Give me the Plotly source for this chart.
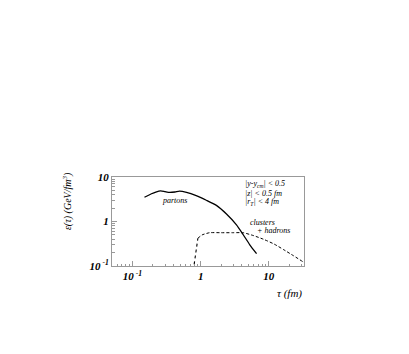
import plotly.graph_objects as go

# Data
parton_tau = [0.15, 0.19, 0.22, 0.26, 0.30, 0.35, 0.42, 0.49, 0.62, 0.86, 1.21, 1.70, 2.39, 3.35, 4.19, 5.25, 6.6]
parton_eps = [3.5, 4.2, 4.6, 4.9, 4.7, 4.5, 4.6, 4.8, 4.5, 3.8, 3.0, 2.3, 1.47, 0.84, 0.51, 0.30, 0.19]

rise_tau = [0.78, 0.82, 0.86, 0.91]
rise_eps = [0.08, 0.14, 0.25, 0.42]

clus_tau = [0.91, 1.05, 1.35, 2.0, 3.0, 4.2, 6.0, 8.3, 12.0, 16.3, 23.0, 32.0, 36.0]
clus_eps = [0.42, 0.50, 0.56, 0.56, 0.56, 0.56, 0.48, 0.40, 0.31, 0.235, 0.17, 0.123, 0.11]

x_tickvals = [0.1, 1, 10]
x_ticktext = ["10<sup> -1</sup>", "1", "10"]
y_tickvals = [0.1, 1, 10]
y_ticktext = ["10<sup> -1</sup>", "1", "10"]

FONT = "Liberation Serif"

minor_vals = [m * 10 ** e for e in (-2, -1, 0, 1) for m in range(2, 10)]

fig = go.Figure()
fig.add_trace(go.Scatter(x=parton_tau, y=parton_eps, mode="lines",
                         line=dict(color="black", width=1.3, shape="spline", smoothing=0.6)))
fig.add_trace(go.Scatter(x=rise_tau, y=rise_eps, mode="lines",
                         line=dict(color="black", width=1.1, dash="dot")))
fig.add_trace(go.Scatter(x=clus_tau, y=clus_eps, mode="lines",
                         line=dict(color="black", width=1.0, dash="3px,2px", shape="spline", smoothing=0.5)))

axis_common = dict(
    showline=True, linecolor="#999999", linewidth=1, mirror=True,
    ticks="inside", ticklen=5, tickcolor="#999999", tickwidth=1,
    showgrid=False, zeroline=False,
    minor=dict(ticks="inside", ticklen=2.5, tickcolor="#999999", tickwidth=1,
               showgrid=False, tickmode="array", tickvals=minor_vals),
    tickfont=dict(family=FONT, size=11, color="black", style="italic", weight="bold"),
)

fig.update_xaxes(type="log", range=[-1.30, 1.515], tickvals=x_tickvals, ticktext=x_ticktext, **axis_common)
fig.update_yaxes(type="log", range=[-1.0, 1.0], tickvals=y_tickvals, ticktext=y_ticktext, **axis_common)

tf = dict(family=FONT, size=8, color="black", style="italic")
ann = [
    dict(text="partons", x=0.323, y=0.734, xanchor="center", yanchor="middle"),
    dict(text="|y-y<sub>cm</sub>| < 0.5", x=0.682, y=0.925, xanchor="left", yanchor="middle"),
    dict(text="|z| < 0.5 fm", x=0.682, y=0.818, xanchor="left", yanchor="middle"),
    dict(text="|r<sub>T</sub>| < 4 fm", x=0.682, y=0.716, xanchor="left", yanchor="middle"),
    dict(text="clusters", x=0.784, y=0.492, xanchor="center", yanchor="middle"),
    dict(text="+ hadrons", x=0.841, y=0.40, xanchor="center", yanchor="middle"),
]
for a in ann:
    fig.add_annotation(xref="paper", yref="paper", showarrow=False, font=tf, **a)

fig.add_annotation(xref="paper", yref="paper", x=-0.234, y=0.73, showarrow=False,
                   text="ε(τ) (GeV/fm<sup>3</sup>)", textangle=-90,
                   xanchor="center", yanchor="middle",
                   font=dict(family=FONT, size=10, color="black", style="italic"))
fig.add_annotation(xref="paper", yref="paper", x=1.0, y=-0.305, showarrow=False,
                   text="τ (fm)", xanchor="right", yanchor="middle",
                   font=dict(family=FONT, size=11, color="black", style="italic"))

fig.update_layout(
    width=401, height=346,
    margin=dict(l=104, r=105, t=169, b=88, pad=0),
    paper_bgcolor="white", plot_bgcolor="white",
    showlegend=False,
)

fig.write_html("out.html")
